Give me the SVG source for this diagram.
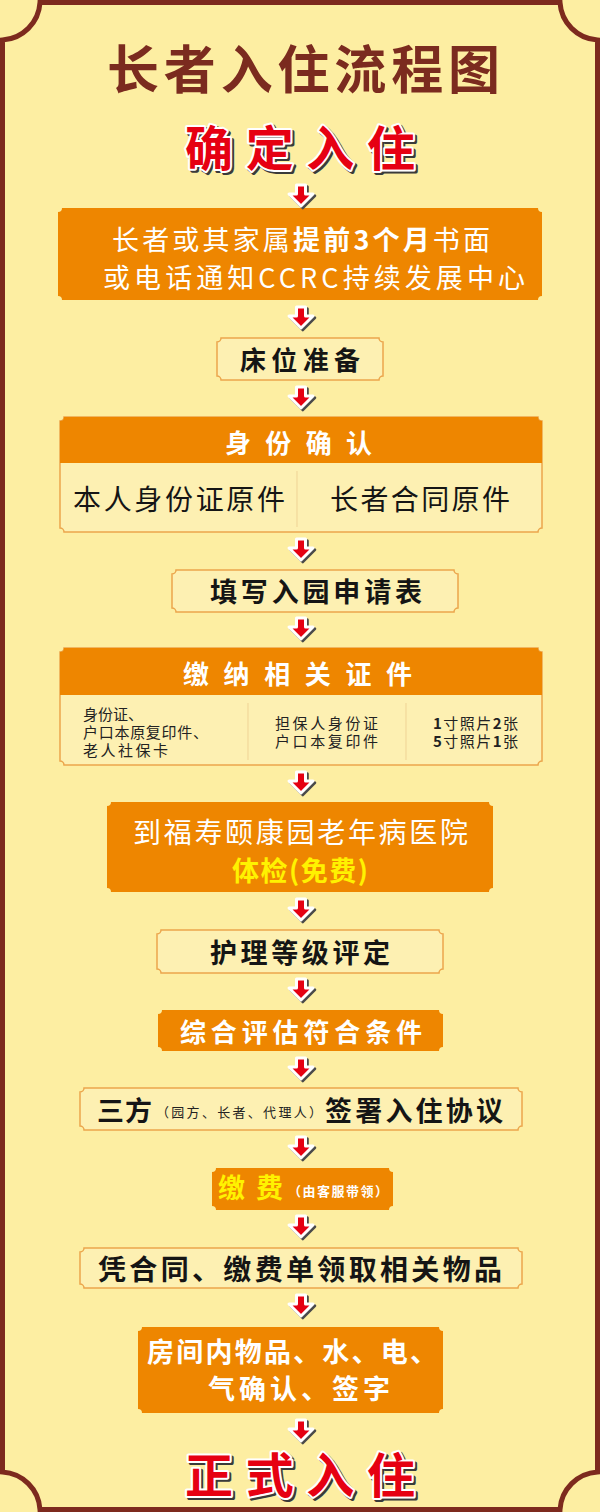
<svg xmlns="http://www.w3.org/2000/svg" xmlns:xlink="http://www.w3.org/1999/xlink" width="600" height="1512" viewBox="0 0 600 1512">
<style>
text{font-family:"Noto Sans CJK SC","Noto Sans",sans-serif}
.b{font-weight:bold}
.ob{fill:#ee8600}
.lb{fill:#fdf0b2;stroke:#eba54c;stroke-width:1.5}
.hd{fill:#ee8600}
.w{fill:#ffffff}
.k{fill:#151515}
.y{fill:#fff200}
.sm{fill:#222222}
.div{stroke:#f2d89a;stroke-width:1.2}
.rt{fill:#e60012;stroke:#ffffff;stroke-width:4;stroke-linejoin:round;paint-order:stroke}
.rs{fill:#3a3a3a;stroke:#3a3a3a;stroke-width:4;stroke-linejoin:round}
</style>
<defs>
<g id="arr">
<path d="M-4.5,0 H4.5 V9 H12 L0,21 L-12,9 H-4.5 Z" transform="translate(1.8,1.8)" fill="#4a4a4a" stroke="#4a4a4a" stroke-width="3" stroke-linejoin="round"/>
<path d="M-4.5,0 H4.5 V9 H12 L0,21 L-12,9 H-4.5 Z" fill="#e50012" stroke="#ffffff" stroke-width="3" stroke-linejoin="round"/>
</g>
</defs>
<rect width="600" height="1512" fill="#fdeea2"/>
<path id="frame" d="M40,2.5 H560 A40 40 0 0 0 597.5,40 V1472 A40 40 0 0 0 560,1509.5 H40 A40 40 0 0 0 2.5,1472 V40 A40 40 0 0 0 40,2.5 Z" fill="none" stroke="#7d2a1e" stroke-width="5"/>

<g id="title">
<text x="107" y="89" font-size="52" class="b" fill="#7b2b1f" textLength="393" lengthAdjust="spacing">长者入住流程图</text>
</g>

<g id="start">
<text x="187" y="168" font-size="48" class="b rs" textLength="230" lengthAdjust="spacing">确定入住</text>
<text x="185" y="166" font-size="48" class="b rt" textLength="230" lengthAdjust="spacing">确定入住</text>
</g>

<g id="n1">
<path class="ob" d="M62,208 H538 A4 4 0 0 0 542,212 V296 A4 4 0 0 0 538,300 H62 A4 4 0 0 0 58,296 V212 A4 4 0 0 0 62,208 Z"/>
<text x="112" y="250" font-size="27" class="w" textLength="378" lengthAdjust="spacing">长者或其家属<tspan class="b">提前3个月</tspan>书面</text>
<text x="103" y="288" font-size="27" class="w" textLength="422" lengthAdjust="spacing">或电话通知CCRC持续发展中心</text>
</g>

<g id="n2">
<path class="lb" d="M221,338 H379 A4 4 0 0 0 383,342 V376 A4 4 0 0 0 379,380 H221 A4 4 0 0 0 217,376 V342 A4 4 0 0 0 221,338 Z"/>
<text x="240" y="370" font-size="26" class="b k" textLength="120" lengthAdjust="spacing">床位准备</text>
</g>

<g id="n3">
<path class="lb" d="M64,417 H538 A4 4 0 0 0 542,421 V528 A4 4 0 0 0 538,532 H64 A4 4 0 0 0 60,528 V421 A4 4 0 0 0 64,417 Z"/>
<path class="hd" d="M64,417 H538 A4 4 0 0 0 542,421 V463 H60 V421 A4 4 0 0 0 64,417 Z"/>
<line class="div" x1="297" y1="471" x2="297" y2="527"/>
<text x="225" y="453" font-size="26" class="b w" textLength="147" lengthAdjust="spacing">身份确认</text>
<text x="73" y="510" font-size="28" class="k" textLength="212" lengthAdjust="spacing">本人身份证原件</text>
<text x="330" y="510" font-size="28" class="k" textLength="180" lengthAdjust="spacing">长者合同原件</text>
</g>

<g id="n4">
<path class="lb" d="M176,570 H454 A4 4 0 0 0 458,574 V608 A4 4 0 0 0 454,612 H176 A4 4 0 0 0 172,608 V574 A4 4 0 0 0 176,570 Z"/>
<text x="210" y="602" font-size="27" class="b k" textLength="212" lengthAdjust="spacing">填写入园申请表</text>
</g>

<g id="n5">
<path class="lb" d="M64,648 H538 A4 4 0 0 0 542,652 V761 A4 4 0 0 0 538,765 H64 A4 4 0 0 0 60,761 V652 A4 4 0 0 0 64,648 Z"/>
<path class="hd" d="M64,648 H538 A4 4 0 0 0 542,652 V695 H60 V652 A4 4 0 0 0 64,648 Z"/>
<line class="div" x1="248" y1="703" x2="248" y2="760"/>
<line class="div" x1="406" y1="703" x2="406" y2="760"/>
<text x="183" y="684" font-size="26" class="b w" textLength="229" lengthAdjust="spacing">缴纳相关证件</text>
<text x="83" y="720" font-size="15" class="sm">身份证、</text>
<text x="83" y="738" font-size="15" class="sm" textLength="125" lengthAdjust="spacing">户口本原复印件、</text>
<text x="83" y="756" font-size="15" class="sm" textLength="85" lengthAdjust="spacing">老人社保卡</text>
<text x="275" y="729" font-size="15" class="sm" textLength="103" lengthAdjust="spacing">担保人身份证</text>
<text x="275" y="747" font-size="15" class="sm" textLength="103" lengthAdjust="spacing">户口本复印件</text>
<text x="433" y="729" font-size="15" class="sm" textLength="85" lengthAdjust="spacing"><tspan class="b">1</tspan>寸照片<tspan class="b">2</tspan>张</text>
<text x="433" y="747" font-size="15" class="sm" textLength="85" lengthAdjust="spacing"><tspan class="b">5</tspan>寸照片<tspan class="b">1</tspan>张</text>
</g>

<g id="n6">
<path class="ob" d="M111,802 H489 A4 4 0 0 0 493,806 V888 A4 4 0 0 0 489,892 H111 A4 4 0 0 0 107,888 V806 A4 4 0 0 0 111,802 Z"/>
<text x="133" y="843" font-size="28" class="w" textLength="335" lengthAdjust="spacing">到福寿颐康园老年病医院</text>
<text x="232" y="881" font-size="27" class="b y" textLength="136" lengthAdjust="spacing">体检(免费)</text>
</g>

<g id="n7">
<path class="lb" d="M161,930 H439 A4 4 0 0 0 443,934 V969 A4 4 0 0 0 439,973 H161 A4 4 0 0 0 157,969 V934 A4 4 0 0 0 161,930 Z"/>
<text x="210" y="963" font-size="27" class="b k" textLength="180" lengthAdjust="spacing">护理等级评定</text>
</g>

<g id="n8">
<path class="ob" d="M162,1010 H439 A4 4 0 0 0 443,1014 V1047 A4 4 0 0 0 439,1051 H162 A4 4 0 0 0 158,1047 V1014 A4 4 0 0 0 162,1010 Z"/>
<text x="180" y="1042" font-size="26" class="b w" textLength="242" lengthAdjust="spacing">综合评估符合条件</text>
</g>

<g id="n9">
<path class="lb" d="M84,1088 H518 A4 4 0 0 0 522,1092 V1126 A4 4 0 0 0 518,1130 H84 A4 4 0 0 0 80,1126 V1092 A4 4 0 0 0 84,1088 Z"/>
<text x="97" y="1121" font-size="27" class="b k" textLength="55" lengthAdjust="spacing">三方</text>
<text x="156" y="1117" font-size="13" class="sm" textLength="166" lengthAdjust="spacing">（园方、长者、代理人）</text>
<text x="325" y="1121" font-size="27" class="b k" textLength="178" lengthAdjust="spacing">签署入住协议</text>
</g>

<g id="n10">
<path class="ob" d="M216,1168 H389 A4 4 0 0 0 393,1172 V1206 A4 4 0 0 0 389,1210 H216 A4 4 0 0 0 212,1206 V1172 A4 4 0 0 0 216,1168 Z"/>
<text x="218" y="1198" font-size="27" class="b y" textLength="65" lengthAdjust="spacing">缴费</text>
<text x="288" y="1196" font-size="13" class="b w" textLength="100" lengthAdjust="spacing">（由客服带领）</text>
</g>

<g id="n11">
<path class="lb" d="M84,1248 H518 A4 4 0 0 0 522,1252 V1284 A4 4 0 0 0 518,1288 H84 A4 4 0 0 0 80,1284 V1252 A4 4 0 0 0 84,1248 Z"/>
<text x="98" y="1280" font-size="28" class="b k" textLength="404" lengthAdjust="spacing">凭合同、缴费单领取相关物品</text>
</g>

<g id="n12">
<path class="ob" d="M142,1327 H439 A4 4 0 0 0 443,1331 V1409 A4 4 0 0 0 439,1413 H142 A4 4 0 0 0 138,1409 V1331 A4 4 0 0 0 142,1327 Z"/>
<text x="147" y="1362" font-size="27" class="b w" textLength="290" lengthAdjust="spacing">房间内物品、水、电、</text>
<text x="208" y="1399" font-size="27" class="b w" textLength="182" lengthAdjust="spacing">气确认、签字</text>
</g>

<g id="end">
<text x="187" y="1495" font-size="48" class="b rs" textLength="230" lengthAdjust="spacing">正式入住</text>
<text x="185" y="1493" font-size="48" class="b rt" textLength="230" lengthAdjust="spacing">正式入住</text>
</g>

<g id="connectors">
<use xlink:href="#arr" x="301" y="185"/>
<use xlink:href="#arr" x="301" y="307"/>
<use xlink:href="#arr" x="301" y="387"/>
<use xlink:href="#arr" x="301" y="539"/>
<use xlink:href="#arr" x="301" y="618"/>
<use xlink:href="#arr" x="301" y="772"/>
<use xlink:href="#arr" x="301" y="899"/>
<use xlink:href="#arr" x="301" y="979"/>
<use xlink:href="#arr" x="301" y="1058"/>
<use xlink:href="#arr" x="301" y="1137"/>
<use xlink:href="#arr" x="301" y="1216"/>
<use xlink:href="#arr" x="301" y="1295"/>
<use xlink:href="#arr" x="301" y="1420"/>
</g>
</svg>
